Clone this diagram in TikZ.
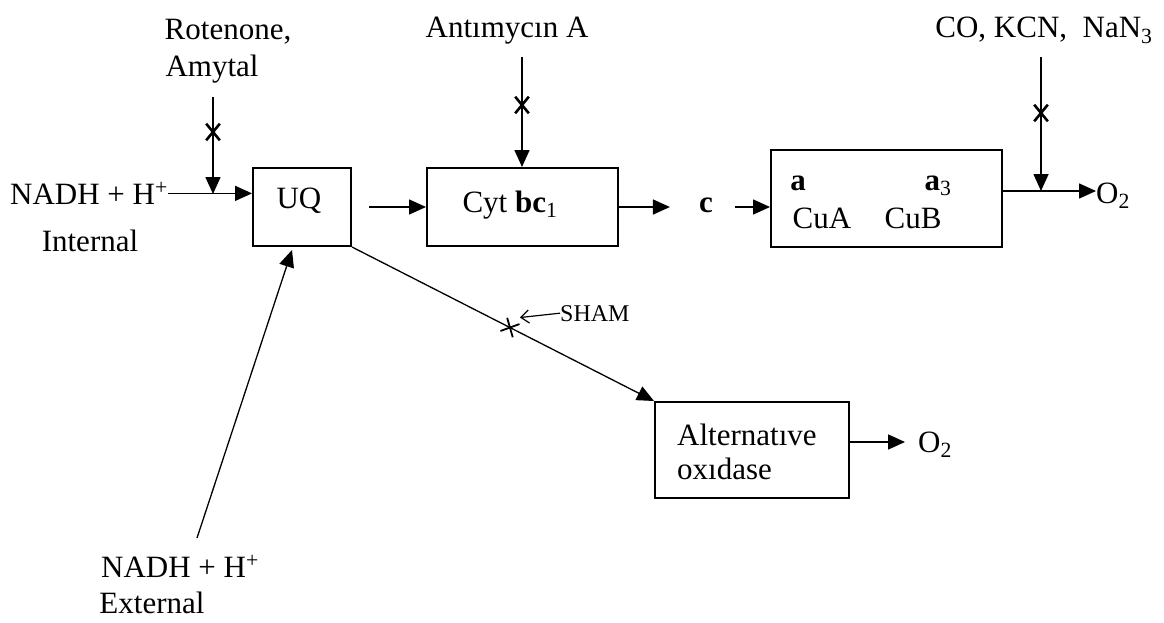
\documentclass[tikz,border=0pt]{standalone}
\usepackage{fontspec}
\setmainfont{Liberation Serif}
\usetikzlibrary{arrows.meta,shapes.misc}
\begin{document}
\begin{tikzpicture}[x=1pt,y=-1pt,
  lbl/.style={inner sep=0pt, font=\fontsize{31}{34}\selectfont},
  box/.style={draw, line width=2pt, inner sep=0pt},
  arr/.style={line width=1.6pt, -{Triangle[length=17pt,width=15pt]}},
  thin arr/.style={line width=1.3pt, -{Triangle[length=17pt,width=15pt]}},
  xmark/.style={cross out, draw, line width=2.6pt, minimum width=11pt, minimum height=14pt, inner sep=0pt},
]
\useasboundingbox (0,0) rectangle (1164,623);
\fill[white] (0,0) rectangle (1164,623);

% boxes
\node[box, minimum width=98pt, minimum height=78pt] (uq) at (302,207) {};
\node[box, minimum width=191pt, minimum height=78pt] (cyt) at (522.5,207) {};
\node[box, minimum width=231pt, minimum height=97pt] (cox) at (886.5,198.5) {};
\node[box, minimum width=194pt, minimum height=96pt] (alt) at (752,450) {};

% box texts
\node[lbl, anchor=base] (uqt) at (299,208) {UQ};
\node[lbl, anchor=base] (cytt) at (510,212) {Cyt {\bfseries bc}\textsubscript{1}};
\node[lbl, anchor=base] (ca) at (798,190) {\textbf{a}};
\node[lbl, anchor=base] (ca3) at (938,190) {\textbf{a}\textsubscript{3}};
\node[lbl, anchor=base] (cua) at (822,228) {CuA};
\node[lbl, anchor=base] (cub) at (913,228) {CuB};
\node[lbl, anchor=west, align=left] (altt) at (677,452) {Alternatıve\\oxıdase};

% labels
\node[lbl, anchor=base] (rot) at (228,40) {Rotenone,};
\node[lbl, anchor=base] (amy) at (212,77) {Amytal};
\node[lbl, anchor=base] (anti) at (507,38) {Antımycın A};
\node[lbl, anchor=base] (co) at (1044,38) {CO, KCN,~ NaN\textsubscript{3}};
\node[lbl, anchor=base] (nadh) at (89,204) {NADH + H\textsuperscript{+}};
\node[lbl, anchor=base] (int) at (90,251) {Internal};
\node[lbl, anchor=base] (ext) at (180,577) {NADH + H\textsuperscript{+}};
\node[lbl, anchor=base] (extl) at (152,613) {External};
\node[lbl, anchor=base] (cn) at (706,212) {\bfseries c};
\node[lbl, anchor=base west] (o2a) at (1096,203) {O\textsubscript{2}};
\node[lbl, anchor=base west] (o2b) at (918,452) {O\textsubscript{2}};
\node[lbl, anchor=base west, font=\fontsize{24}{26}\selectfont] (sham) at (560,321) {SHAM};

% inhibitor lines
\coordinate (rt) at (213,97);
\coordinate (rb) at (213,194);
\coordinate (at) at (522,57);
\coordinate (ct) at (1041,57);
\draw[arr] (rt) -- (rb);
\draw[arr] (at) -- (cyt.north -| at);
\draw[arr] (ct) -- (ct |- 0,191);
\node[xmark] (rx) at (213,132) {};
\node[xmark] (ax) at (522,105) {};
\node[xmark] (cx) at (1041,113) {};

% main chain
\draw[arr] (nadh.east) -- (nadh.east -| uq.west);
\draw[arr, shorten <=17pt] (uq.east) -- (cyt.west);
\draw[arr, shorten >=29pt] (cyt.east) -- (cyt.east -| cn.west);
\draw[arr, shorten <=22pt] (cyt.east -| cn.east) -- (cyt.east -| cox.west);
\draw[arr] ([yshift=7.5pt]cox.east) -- ([yshift=7.5pt]cox.east -| o2a.west);

% alternative branch
\coordinate (extst) at (197,538);
\draw[thin arr] (extst) -- ([xshift=-10pt,yshift=-3pt]uq.south);
\draw[thin arr] (uq.south east) -- (alt.north west) coordinate[pos=0.523] (shx);
\node[xmark, minimum width=12pt, minimum height=13pt, line width=1.8pt, rotate=-27] (sx) at (shx) {};
\draw[line width=1.2pt, -{Straight Barb[length=8pt,width=13pt]}] (sham.west) -- ([xshift=10pt,yshift=10pt]shx);
\draw[arr, shorten >=13pt] ([yshift=8pt]alt.east) -- ([yshift=8pt]alt.east -| o2b.west);
\end{tikzpicture}
\end{document}
